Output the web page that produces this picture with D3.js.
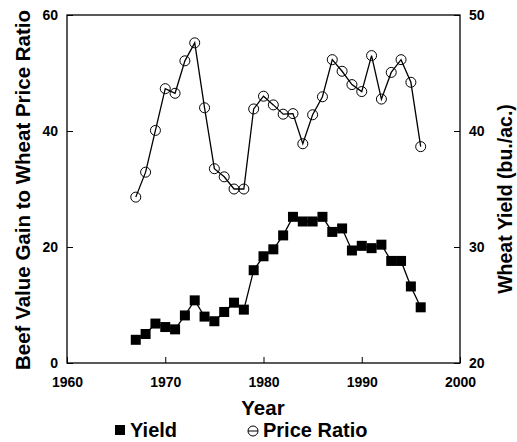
<!DOCTYPE html>
<html>
<head>
<meta charset="utf-8">
<script src="https://cdnjs.cloudflare.com/ajax/libs/d3/7.8.5/d3.min.js"></script>
<style>
  body { margin: 0; background: #fff; }
  text { font-family: "Liberation Sans", Arial, sans-serif; font-weight: bold; fill: #000; }
</style>
</head>
<body>
<div id="chart"></div>
<script>
// years shared by both series
var years = [1967, 1968, 1969, 1970, 1971, 1972, 1973, 1974, 1975, 1976,
             1977, 1978, 1979, 1980, 1981, 1982, 1983, 1984, 1985, 1986,
             1987, 1988, 1989, 1990, 1991, 1992, 1993, 1994, 1995, 1996];

// beef value gain to wheat price ratio (left axis)
var priceRatio = [28.6, 32.9, 40.1, 47.3, 46.5, 52.1, 55.2, 44.0, 33.5, 32.1,
                  30.0, 30.0, 43.8, 46.0, 44.5, 42.9, 43.0, 37.8, 42.8, 45.9,
                  52.3, 50.3, 48.0, 46.8, 53.0, 45.5, 50.1, 52.3, 48.4, 37.3];

// wheat yield, bu./ac. (right axis)
var yieldValues = [22.0, 22.5, 23.4, 23.1, 22.9, 24.1, 25.4, 24.0, 23.6, 24.4,
                   25.2, 24.6, 28.0, 29.2, 29.8, 31.0, 32.6, 32.2, 32.2, 32.6,
                   31.3, 31.6, 29.7, 30.1, 29.9, 30.2, 28.8, 28.8, 26.6, 24.8];

var xTicks = [1960, 1970, 1980, 1990, 2000];
var leftTicks = [0, 20, 40, 60];
var rightTicks = [20, 30, 40, 50];

function renderChart() {
  var attrs = {
    svgWidth: 517,
    svgHeight: 442,
    plotLeft: 67,
    plotRight: 460,
    plotTop: 15,
    plotBottom: 363,
    tickSize: 6,
    markerSize: 10,
    circleRadius: 5,
    tickFont: 14,
    titleFont: 20.5,
    container: '#chart'
  };

  // scales
  var x = d3.scaleLinear().domain([1960, 2000]).range([attrs.plotLeft, attrs.plotRight]);
  var yLeft = d3.scaleLinear().domain([0, 60]).range([attrs.plotBottom, attrs.plotTop]);
  var yRight = d3.scaleLinear().domain([20, 50]).range([attrs.plotBottom, attrs.plotTop]);

  var svg = d3.select(attrs.container).append('svg')
    .attr('width', attrs.svgWidth)
    .attr('height', attrs.svgHeight);

  // frame
  svg.append('rect')
    .attr('x', attrs.plotLeft)
    .attr('y', attrs.plotTop)
    .attr('width', attrs.plotRight - attrs.plotLeft)
    .attr('height', attrs.plotBottom - attrs.plotTop)
    .attr('fill', 'none')
    .attr('stroke', '#000')
    .attr('stroke-width', 1.3);

  // axes, ticks pointing inward
  var xAxis = d3.axisBottom(x).tickValues(xTicks).tickSize(-attrs.tickSize).tickPadding(14).tickFormat(d3.format('d'));
  var leftAxis = d3.axisLeft(yLeft).tickValues(leftTicks).tickSize(-attrs.tickSize).tickPadding(9);
  var rightAxis = d3.axisRight(yRight).tickValues(rightTicks).tickSize(-attrs.tickSize).tickPadding(9);

  var gx = svg.append('g').attr('transform', 'translate(0,' + attrs.plotBottom + ')').call(xAxis);
  var gl = svg.append('g').attr('transform', 'translate(' + attrs.plotLeft + ',0)').call(leftAxis);
  var gr = svg.append('g').attr('transform', 'translate(' + attrs.plotRight + ',0)').call(rightAxis);

  [gx, gl, gr].forEach(function (g) {
    g.select('.domain').remove();
    g.selectAll('.tick line').attr('stroke', '#000').attr('stroke-width', 1);
    g.selectAll('.tick text').attr('font-size', attrs.tickFont).attr('font-family', null);
  });
  gx.selectAll('.tick text').attr('dy', '0.71em');

  var ratioData = years.map(function (d, i) { return { year: d, value: priceRatio[i] }; });
  var yieldData = years.map(function (d, i) { return { year: d, value: yieldValues[i] }; });

  var ratioLine = d3.line()
    .x(function (d) { return x(d.year); })
    .y(function (d) { return yLeft(d.value); });

  var yieldLine = d3.line()
    .x(function (d) { return x(d.year); })
    .y(function (d) { return yRight(d.value); });

  // price ratio: line with open circles
  svg.append('path')
    .datum(ratioData)
    .attr('d', ratioLine)
    .attr('fill', 'none')
    .attr('stroke', '#000')
    .attr('stroke-width', 1.3);

  svg.selectAll('.ratio-point')
    .data(ratioData)
    .enter().append('circle')
    .attr('class', 'ratio-point')
    .attr('cx', function (d) { return x(d.year); })
    .attr('cy', function (d) { return yLeft(d.value); })
    .attr('r', attrs.circleRadius)
    .attr('fill', 'none')
    .attr('stroke', '#000')
    .attr('stroke-width', 1);

  // yield: line with filled squares
  svg.append('path')
    .datum(yieldData)
    .attr('d', yieldLine)
    .attr('fill', 'none')
    .attr('stroke', '#000')
    .attr('stroke-width', 1.3);

  svg.selectAll('.yield-point')
    .data(yieldData)
    .enter().append('rect')
    .attr('class', 'yield-point')
    .attr('x', function (d) { return x(d.year) - attrs.markerSize / 2; })
    .attr('y', function (d) { return yRight(d.value) - attrs.markerSize / 2; })
    .attr('width', attrs.markerSize)
    .attr('height', attrs.markerSize)
    .attr('fill', '#000');

  // axis titles
  svg.append('text')
    .attr('transform', 'translate(23,190) rotate(-90)')
    .attr('text-anchor', 'middle')
    .attr('dy', '0.35em')
    .attr('font-size', attrs.titleFont)
    .text('Beef Value Gain to Wheat Price Ratio');

  svg.append('text')
    .attr('transform', 'translate(505,199) rotate(-90)')
    .attr('text-anchor', 'middle')
    .attr('dy', '0.35em')
    .attr('font-size', 19.5)
    .text('Wheat Yield (bu./ac.)');

  svg.append('text')
    .attr('x', 263)
    .attr('y', 415)
    .attr('text-anchor', 'middle')
    .attr('font-size', attrs.titleFont)
    .text('Year');

  // legend
  var legend = svg.append('g').attr('transform', 'translate(0,430)');

  legend.append('rect')
    .attr('x', 115).attr('y', -5)
    .attr('width', 10).attr('height', 10)
    .attr('fill', '#000');
  legend.append('text')
    .attr('x', 130).attr('dy', '0.35em')
    .attr('font-size', 20)
    .text('Yield');

  legend.append('circle')
    .attr('cx', 253).attr('cy', 1)
    .attr('r', attrs.circleRadius)
    .attr('fill', 'none').attr('stroke', '#000').attr('stroke-width', 1);
  legend.append('line')
    .attr('x1', 248).attr('x2', 258)
    .attr('y1', 1).attr('y2', 1)
    .attr('stroke', '#000').attr('stroke-width', 1);
  legend.append('text')
    .attr('x', 263).attr('dy', '0.35em')
    .attr('font-size', 20)
    .text('Price Ratio');
}

renderChart();
</script>
</body>
</html>
